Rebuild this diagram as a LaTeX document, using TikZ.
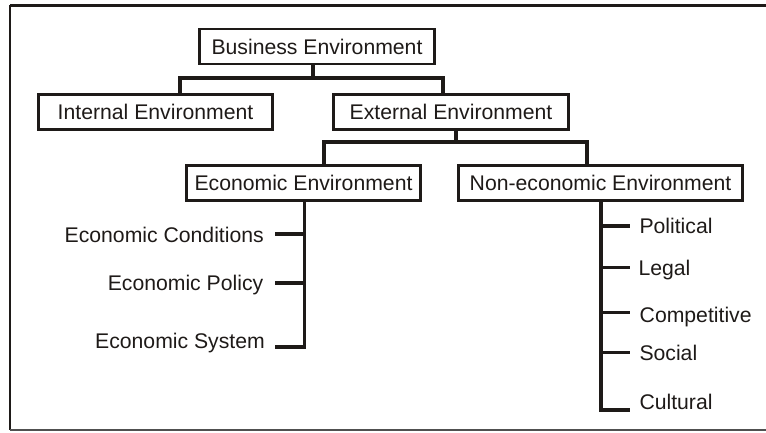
\documentclass[tikz,border=0pt]{standalone}
\usepackage{fontspec}
\setmainfont{Liberation Sans}
\definecolor{ink}{RGB}{30,26,24}
\definecolor{framegray}{RGB}{80,80,80}
\begin{document}
\begin{tikzpicture}[x=1pt,y=-1pt,
  every node/.style={text=ink, font=\fontsize{21.2}{24}\selectfont},
  box/.style={draw=ink, line width=2.8pt, inner sep=0pt, minimum height=35pt,
              text height=15pt, text depth=0pt},
  leaf/.style={inner xsep=0pt, inner ysep=0pt, text height=15pt, text depth=0pt},
  conn/.style={draw=ink, line width=3.3pt, line join=miter}]
\useasboundingbox (0,0) rectangle (766,432);

% outer frame (open on the right)
\draw[ink, line width=3pt] (766,5) -- (10,5);
\draw[ink, line width=2.6pt] (10,5) -- (10,430);
\draw[framegray, line width=1.2pt] (10,430) -- (766,430);

% boxes
\node[box, minimum width=235.2pt] (be)  at (317,46.5)   {Business Environment};
\node[box, minimum width=234.2pt] (ie)  at (155.5,112)  {Internal Environment};
\node[box, minimum width=235.2pt] (ee)  at (451,112)    {External Environment};
\node[box, minimum width=234.2pt] (ece) at (303.5,183)  {Economic Environment};
\node[box, minimum width=284.2pt] (nee) at (600.5,183)  {Non-economic Environment};

% first level connectors
\coordinate (j1)  at (313,78);
\coordinate (j1l) at (180,78);
\coordinate (j1r) at (443,78);
\draw[conn] (be.south -| j1) -- (j1);
\draw[conn] (ie.north -| j1l) -- (j1l) -- (j1r) -- (ee.north -| j1r);

% second level connectors
\coordinate (j2)  at (456,142);
\coordinate (j2l) at (324,142);
\coordinate (j2r) at (587,142);
\draw[conn] (ee.south -| j2) -- (j2);
\draw[conn] (ece.north -| j2l) -- (j2l) -- (j2r) -- (nee.north -| j2r);

% economic factors
\node[leaf, anchor=east] (ec1) at (264,234.5) {Economic Conditions};
\node[leaf, anchor=east] (ec2) at (263.5,283) {Economic Policy};
\node[leaf, anchor=east] (ec3) at (265,340.5) {Economic System};
\coordinate (et) at (304.3,347);
\coordinate (t1) at (275,234);
\coordinate (t2) at (275,283);
\coordinate (t3) at (275,347);
\draw[conn] (ece.south -| et) -- (et) -- (t3);
\draw[conn] (t1) -- (t1 -| et);
\draw[conn] (t2) -- (t2 -| et);

% non-economic factors
\node[leaf, anchor=west] (ne1) at (639.3,225.8) {Political};
\node[leaf, anchor=west] (ne2) at (638.3,267.5) {Legal};
\node[leaf, anchor=west] (ne3) at (639.5,314.5) {Competitive};
\node[leaf, anchor=west] (ne4) at (639.3,353)   {Social};
\node[leaf, anchor=west] (ne5) at (639.3,401.5) {Cultural};
\coordinate (nt) at (601,410);
\coordinate (u1) at (630,226);
\coordinate (u2) at (630,267.7);
\coordinate (u3) at (630,312.3);
\coordinate (u4) at (630,352.3);
\coordinate (u5) at (630,410);
\draw[conn] (nee.south -| nt) -- (nt) -- (u5);
\draw[conn] (u1 -| nt) -- (u1);
\draw[conn] (u2 -| nt) -- (u2);
\draw[conn] (u3 -| nt) -- (u3);
\draw[conn] (u4 -| nt) -- (u4);
\end{tikzpicture}
\end{document}
